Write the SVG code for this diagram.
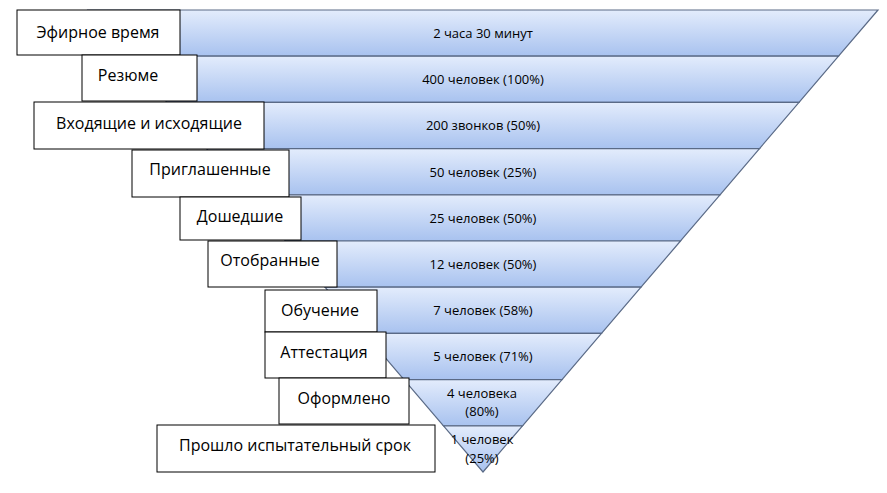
<svg xmlns="http://www.w3.org/2000/svg" width="887" height="493" viewBox="0 0 887 493">
<defs>
<linearGradient id="g" x1="0" y1="0" x2="0" y2="1"><stop offset="0" stop-color="#e3ecfc"/><stop offset="1" stop-color="#a8c2ef"/></linearGradient>
<style>
.band{fill:url(#g);stroke:#5a6a86;stroke-width:1.2}
.box{fill:#fff;stroke:#000;stroke-width:1}
.t{font-family:"Open Sans","Liberation Sans",sans-serif;font-size:13px;fill:#000;text-anchor:middle}
.l{font-family:"Open Sans","Liberation Sans",sans-serif;font-size:16px;fill:#000;text-anchor:middle}
</style>
</defs>
<rect width="887" height="493" fill="#fff"/>
<g id="funnel">
<polygon class="band" points="88,10 878,10 838.5,56.2 127.5,56.2"/>
<polygon class="band" points="127.5,56.2 838.5,56.2 799,102.4 167,102.4"/>
<polygon class="band" points="167,102.4 799,102.4 759.5,148.6 206.5,148.6"/>
<polygon class="band" points="206.5,148.6 759.5,148.6 720,194.8 246,194.8"/>
<polygon class="band" points="246,194.8 720,194.8 680.5,241 285.5,241"/>
<polygon class="band" points="285.5,241 680.5,241 641,287.2 325,287.2"/>
<polygon class="band" points="325,287.2 641,287.2 601.5,333.4 364.5,333.4"/>
<polygon class="band" points="364.5,333.4 601.5,333.4 562,379.6 404,379.6"/>
<polygon class="band" points="404,379.6 562,379.6 522.5,425.8 443.5,425.8"/>
<polygon class="band" points="443.5,425.8 522.5,425.8 483,472"/>
<text class="t" x="483" y="38">2 часа 30 минут</text>
<text class="t" x="483" y="84">400 человек (100%)</text>
<text class="t" x="483" y="130">200 звонков (50%)</text>
<text class="t" x="483" y="177">50 человек (25%)</text>
<text class="t" x="483" y="223">25 человек (50%)</text>
<text class="t" x="483" y="269">12 человек (50%)</text>
<text class="t" x="483" y="315">7 человек (58%)</text>
<text class="t" x="483" y="361">5 человек (71%)</text>
<text class="t" x="482" y="398">4 человека</text>
<text class="t" x="482" y="416">(80%)</text>
<text class="t" x="482" y="444">1 человек</text>
<text class="t" x="482" y="463">(25%)</text>
</g>
<g id="n1"><rect class="box" x="17" y="10" width="163" height="45"/><text class="l" x="98" y="38">Эфирное время</text></g>
<g id="n2"><rect class="box" x="82" y="55" width="115" height="46"/><text class="l" x="128" y="81">Резюме</text></g>
<g id="n3"><rect class="box" x="34" y="102" width="230" height="47"/><text class="l" x="149" y="129">Входящие и исходящие</text></g>
<g id="n4"><rect class="box" x="132" y="150" width="157" height="47"/><text class="l" x="210" y="175">Приглашенные</text></g>
<g id="n5"><rect class="box" x="180" y="197" width="121" height="43"/><text class="l" x="240" y="222">Дошедшие</text></g>
<g id="n6"><rect class="box" x="208" y="241" width="129" height="46"/><text class="l" x="270" y="266">Отобранные</text></g>
<g id="n7"><rect class="box" x="265" y="290" width="112" height="42"/><text class="l" x="320" y="316">Обучение</text></g>
<g id="n8"><rect class="box" x="265" y="332" width="121" height="46"/><text class="l" x="324" y="358">Аттестация</text></g>
<g id="n9"><rect class="box" x="279" y="378" width="130" height="46"/><text class="l" x="344" y="404">Оформлено</text></g>
<g id="n10"><rect class="box" x="157" y="425" width="278" height="47"/><text class="l" x="295" y="451">Прошло испытательный срок</text></g>
<g id="connectors"/>
</svg>
